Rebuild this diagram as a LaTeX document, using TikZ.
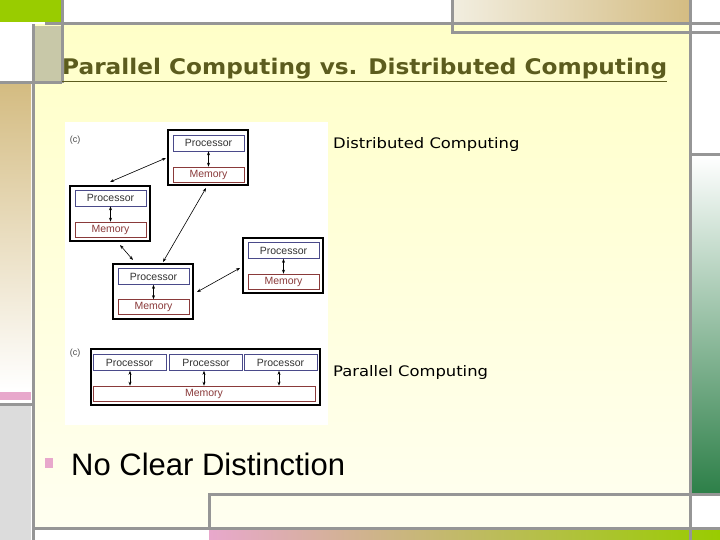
\documentclass[tikz,border=0pt]{standalone}
\usepackage{fontspec}
\setmainfont{DejaVu Sans}
\newfontfamily\lib{Liberation Sans}
\usetikzlibrary{arrows.meta}
\definecolor{gline}{HTML}{969696}
\definecolor{lgreen}{HTML}{99CC00}
\definecolor{tan}{HTML}{D4BC82}
\definecolor{olive}{HTML}{5C5C1E}
\definecolor{pinkc}{HTML}{E8A8CC}
\definecolor{dgreen}{HTML}{2E8049}
\definecolor{pcol}{HTML}{4A4A8A}
\definecolor{mcol}{HTML}{8A3A3A}
\definecolor{ytop}{HTML}{FFFFC8}
\definecolor{ybot}{HTML}{FFFFF0}
\definecolor{sqc}{HTML}{C8C8A8}
\definecolor{lgray}{HTML}{DCDCDC}
\definecolor{tanl}{HTML}{F2EEE0}
\tikzset{
  gl/.style={draw=gline,line width=3pt},
  outerbox/.style={draw=black,line width=1.2pt,fill=white,minimum width=80pt,minimum height=55pt,inner sep=0pt},
  procbox/.style={draw=pcol,line width=0.6pt,fill=white,minimum width=71pt,minimum height=16pt,inner sep=0pt,font=\lib\fontsize{10.5}{10}\selectfont,text=black!80},
  membox/.style={draw=mcol,line width=0.6pt,fill=white,minimum width=71pt,minimum height=15pt,inner sep=0pt,font=\lib\fontsize{10.5}{10}\selectfont,text=mcol},
  dar/.style={{Stealth[length=4pt,width=3pt]}-{Stealth[length=4pt,width=3pt]},line width=0.6pt},
  lbl/.style={anchor=west,font=\fontsize{14.5}{14}\selectfont,inner sep=0pt}
}
\begin{document}
\begin{tikzpicture}[x=1pt,y=-1pt]
\useasboundingbox (0,0) rectangle (720,540);
\fill[white] (0,0) rectangle (720,540);
% content area
\shade[top color=ytop,bottom color=ybot] (33,25) rectangle (690,528);
% left decorations
\fill[lgreen] (0,0) rectangle (62,22);
\fill[sqc] (34,26) rectangle (62,82);
\shade[top color=tan,bottom color=white] (0,85) rectangle (31,390);
\fill[pinkc] (0,392) rectangle (31,400);
\fill[lgray] (0,406) rectangle (31,540);
% top right
\shade[left color=tanl,right color=tan] (452,0) rectangle (690,24);
% right side
\shade[top color=white,bottom color=dgreen] (692,156) rectangle (720,492);
% bottom gradient bar
\shade[left color=pinkc,right color=lgreen] (209,530) rectangle (720,540);
% gray lines
\draw[gl] (45,24) -- (720,24);
\draw[gl] (33,24) -- (33,540);
\draw[gl] (0,83) -- (62,83);
\draw[gl] (62,0) -- (62,83);
\draw[gl] (0,404) -- (33,404);
\draw[gl] (452,0) -- (452,33) -- (720,33);
\draw[gl] (690,0) -- (690,540);
\draw[gl] (690,155) -- (720,155);
\draw[gl] (209,528) -- (209,494) -- (720,494);
\draw[gl] (33,528) -- (720,528);
% title
\node[anchor=west,inner sep=0pt,text=olive,font=\bfseries\fontsize{21.5}{22}\selectfont] (title) at (62,70) {\scalebox{1.08}[1]{\underline{Parallel Computing vs. Distributed Computing}}};
% diagram image background
\fill[white] (65,122) rectangle (328,425);
\node[font=\lib\fontsize{9}{9}\selectfont,text=black!70] (c1) at (75,140) {(c)};
\node[font=\lib\fontsize{9}{9}\selectfont,text=black!70] (c2) at (75,353) {(c)};
% distributed boxes
\node[outerbox] (T) at (208,157.5) {};
\node[procbox] (Tp) at (208.5,143) {Processor};
\node[membox] (Tm) at (208.5,174.5) {Memory};
\node[outerbox] (L) at (110,213.5) {};
\node[procbox] (Lp) at (110.5,198) {Processor};
\node[membox] (Lm) at (110.5,229.5) {Memory};
\node[outerbox] (B) at (153,291.5) {};
\node[procbox] (Bp) at (153.5,276.5) {Processor};
\node[membox] (Bm) at (153.5,307) {Memory};
\node[outerbox] (R) at (283,265.5) {};
\node[procbox] (Rp) at (283.5,250.5) {Processor};
\node[membox] (Rm) at (283.5,281.5) {Memory};
\draw[dar] (Tp) -- (Tm);
\draw[dar] (Lp) -- (Lm);
\draw[dar] (Bp) -- (Bm);
\draw[dar] (Rp) -- (Rm);
\coordinate (a1) at (110,182); \coordinate (a2) at (166,158);
\coordinate (b1) at (206,188); \coordinate (b2) at (163,262);
\coordinate (d1) at (120,245); \coordinate (d2) at (133,260);
\coordinate (e1) at (197,292); \coordinate (e2) at (240,268);
\draw[dar] (a1) -- (a2);
\draw[dar] (b1) -- (b2);
\draw[dar] (d1) -- (d2);
\draw[dar] (e1) -- (e2);
% parallel
\node[outerbox,minimum width=229pt,minimum height=56pt] (P) at (205.5,377) {};
\node[procbox,minimum width=73pt] (P1) at (129.5,362.5) {Processor};
\node[procbox,minimum width=73pt] (P2) at (206,362.5) {Processor};
\node[procbox,minimum width=73pt] (P3) at (280.5,362.5) {Processor};
\node[membox,minimum width=222pt] (PM) at (204,393.5) {Memory};
\draw[dar] (P1.south -| 130,0) -- (PM.north -| 130,0);
\draw[dar] (P2.south -| 204,0) -- (PM.north -| 204,0);
\draw[dar] (P3.south -| 279,0) -- (PM.north -| 279,0);
% labels
\node[lbl] (dl) at (333,145) {\scalebox{1.13}[1]{Distributed Computing}};
\node[lbl] (pl) at (333,372) {\scalebox{1.13}[1]{Parallel Computing}};
% bullet
\fill[pinkc] (45,458) rectangle (53,468);
\node[anchor=west,inner sep=0pt,font=\lib\fontsize{31}{31}\selectfont] (nc) at (71,464) {No Clear Distinction};
\end{tikzpicture}
\end{document}
